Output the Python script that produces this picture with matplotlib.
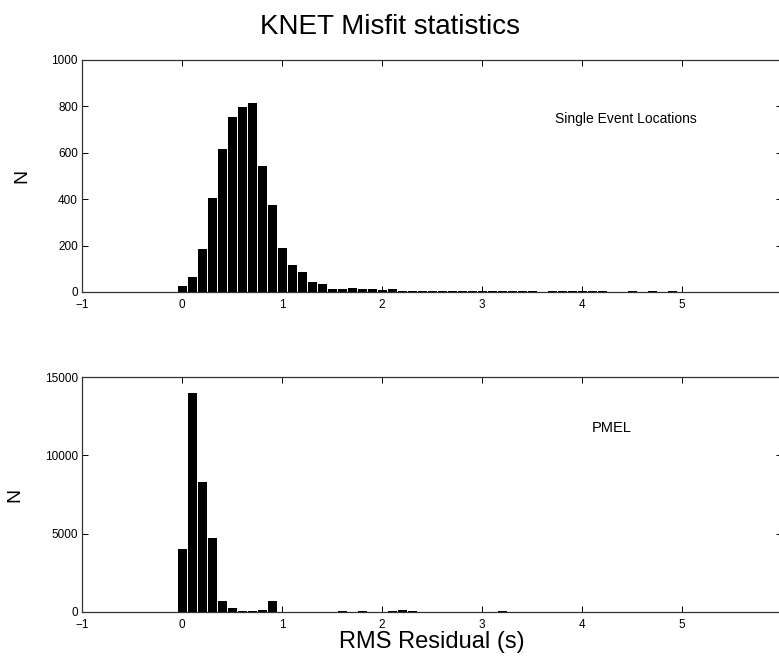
import numpy as np
import matplotlib.pyplot as plt

plt.rcParams["font.family"] = ["Liberation Sans", "DejaVu Sans"]

# bin centres (s) and counts
centers = np.round(np.arange(0.0, 5.0, 0.1), 1)

single_counts = [
    24, 63, 187, 407, 615, 753, 799, 813, 544, 373,
    189, 118, 85, 42, 34, 14, 12, 16, 15, 15,
    10, 14, 6, 5, 5, 4, 5, 5, 5, 5,
    4, 5, 4, 5, 6, 6, 0, 5, 5, 5,
    6, 6, 6, 0, 0, 5, 0, 6, 0, 6,
]

pmel_counts = [
    4000, 14000, 8300, 4700, 700, 280, 50, 50, 120, 720,
    0, 0, 0, 0, 0, 0, 40, 0, 40, 0,
    0, 40, 120, 40, 0, 0, 0, 0, 0, 0,
    0, 0, 50, 0, 0, 0, 0, 0, 0, 0,
    0, 0, 0, 0, 0, 0, 0, 0, 0, 0,
]

x_ticks = [-1, 0, 1, 2, 3, 4, 5, 6]
single_yticks = [0, 200, 400, 600, 800, 1000]
pmel_yticks = [0, 5000, 10000, 15000]

W, H = 779, 661
fig = plt.figure(figsize=(W / 100, H / 100), dpi=100)


def make_axes(rect, counts, yticks, ymax, label, label_xy, label_size, n_x):
    ax = fig.add_axes(rect)
    ax.bar(centers, counts, width=0.09, color="black", linewidth=0)
    ax.set_xlim(-1, 6)
    ax.set_ylim(0, ymax)
    ax.set_xticks(x_ticks)
    ax.set_yticks(yticks)
    ax.tick_params(direction="in", length=4, width=0.7, labelsize=8.5,
                   top=True, right=True)
    ax.tick_params(axis="x", pad=5)
    ax.tick_params(axis="y", pad=3)
    for s in ax.spines.values():
        s.set_linewidth(0.9)
        s.set_color("#333333")
    ax.set_ylabel("N", fontsize=14)
    ax.yaxis.set_label_coords(n_x, 0.5)
    ax.text(label_xy[0], label_xy[1], label, fontsize=label_size, va="center")
    return ax


# axes boxes in pixels: left 82, right 782
ax1 = make_axes([82 / W, 1 - 292 / H, 700 / W, 232 / H],
                single_counts, single_yticks, 1000,
                "Single Event Locations", (3.73, 745), 10, -0.074)
ax2 = make_axes([82 / W, 1 - 612 / H, 700 / W, 235 / H],
                pmel_counts, pmel_yticks, 15000,
                "PMEL", (4.1, 11750), 10.5, -0.084)
ax2.set_xlabel("RMS Residual (s)", fontsize=17, labelpad=0)

fig.text(0.5, 1 - 27 / H, "KNET Misfit statistics", fontsize=20,
         ha="center", va="center")

fig.savefig("out.png", dpi=100)
